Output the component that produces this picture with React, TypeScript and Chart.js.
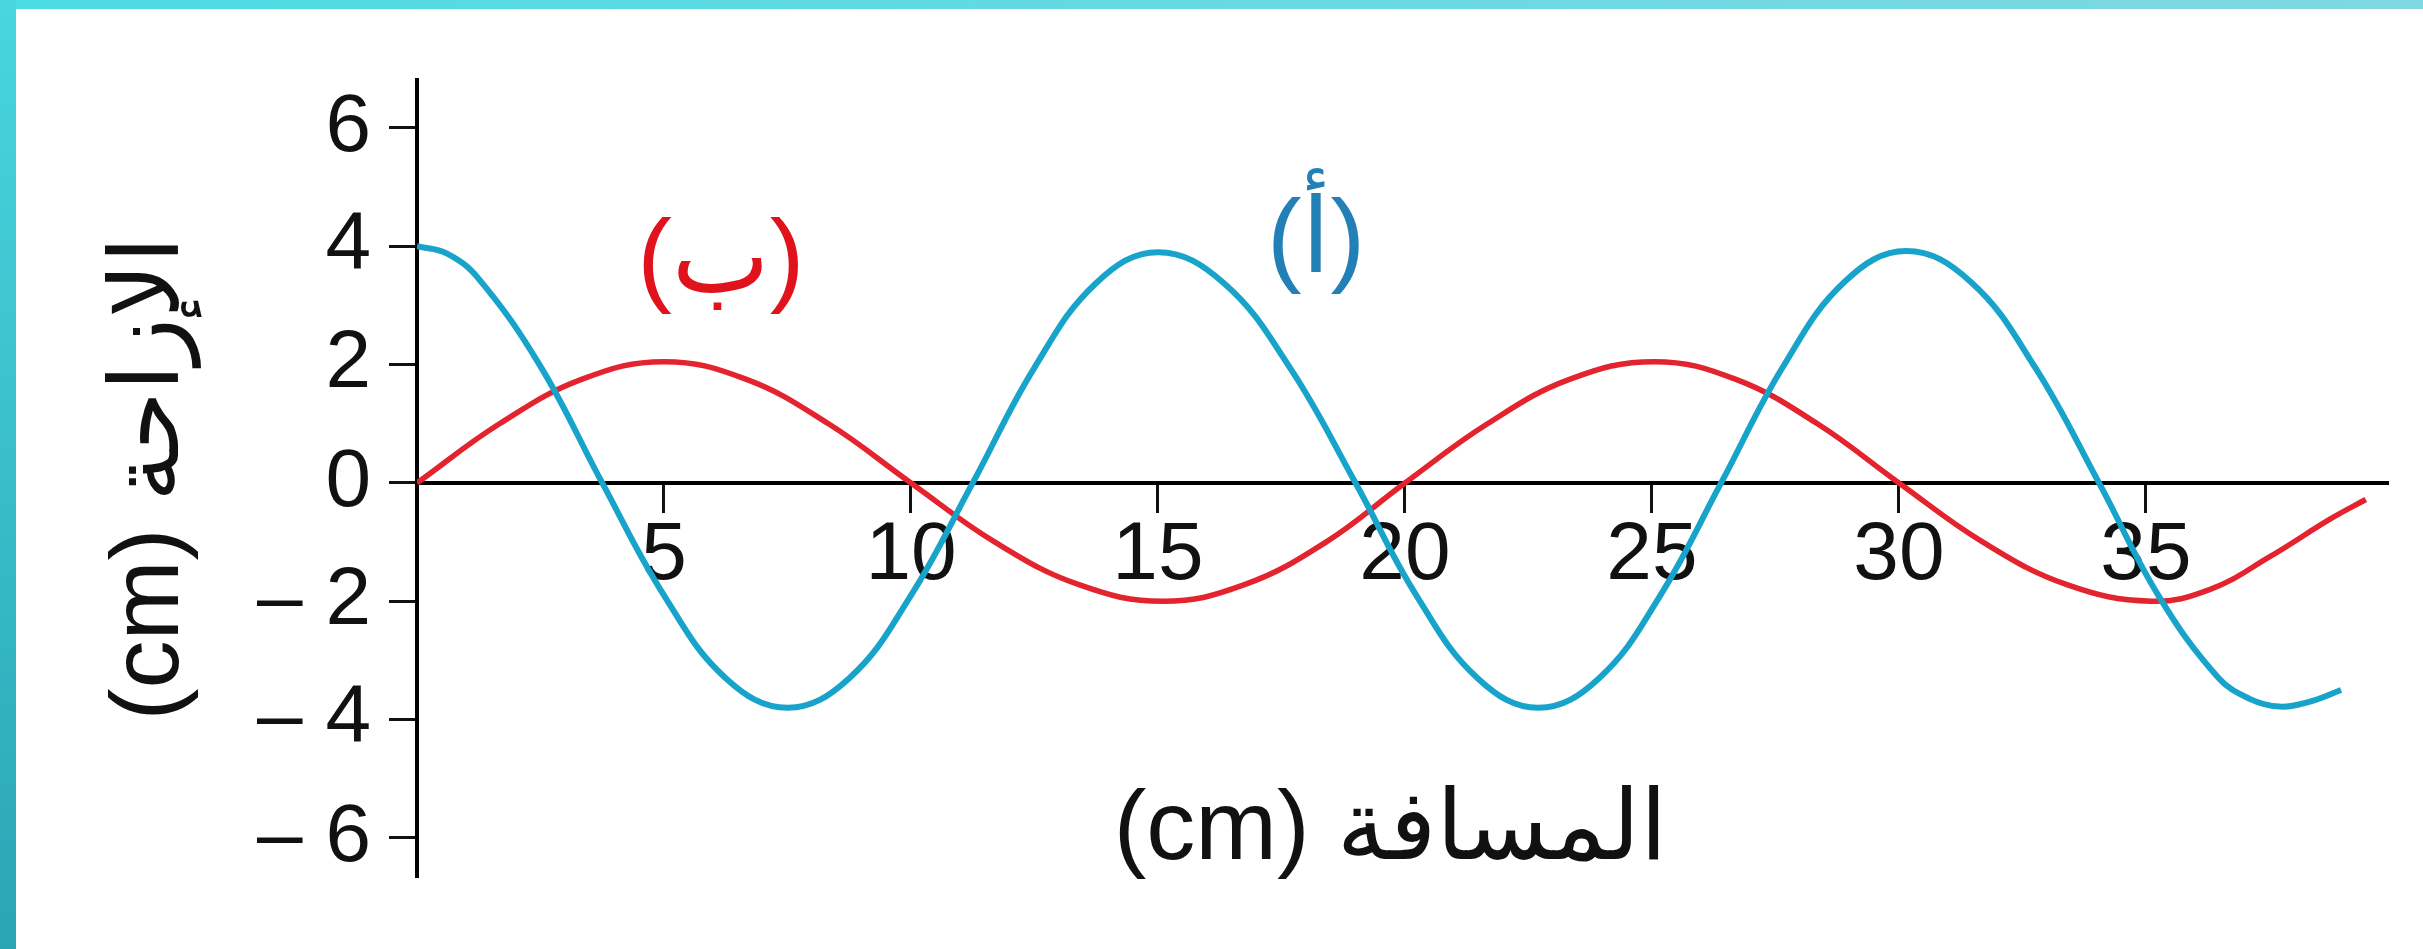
import React, { useEffect, useRef } from 'react';
import { Chart, registerables } from 'chart.js';

Chart.register(...registerables);

const W = 2423;
const H = 949;
const FONT = "'Liberation Sans', Arial, 'DejaVu Sans', sans-serif";

// Wave (أ): displacement (cm) against distance (cm)
const waveAx = [0, 0.6, 1.25, 2.5, 3.75, 5, 6.25, 7.5, 8.75, 10, 11.25, 12.5, 13.75, 15, 16.33, 17.67, 19, 20.23, 21.47, 22.7, 23.93, 25.17, 26.4, 27.65, 28.9, 30.15, 31.45, 32.75, 34.05, 35.25, 36.45, 37.1, 37.7, 38.3, 38.95];
const waveAy = [4.0, 3.88, 3.45, 1.97, 0, -1.9, -3.3, -3.8, -3.3, -1.9, 0, 1.95, 3.38, 3.9, 3.38, 1.95, 0, -1.9, -3.3, -3.8, -3.3, -1.9, 0, 1.96, 3.4, 3.92, 3.4, 1.96, 0, -1.9, -3.28, -3.65, -3.78, -3.7, -3.5];

// Wave (ب): displacement (cm) against distance (cm)
const waveBx = [0, 1.67, 3.33, 5, 6.67, 8.33, 10, 11.7, 13.4, 15.1, 16.75, 18.4, 20, 21.67, 23.33, 25.05, 26.7, 28.35, 30, 31.7, 33.4, 35.1, 36.3, 37.5, 38.75, 39.45];
const waveBy = [0, 1.0, 1.75, 2.05, 1.75, 1.0, 0, -1.0, -1.72, -2.0, -1.72, -1.0, 0, 1.0, 1.75, 2.05, 1.75, 1.0, 0, -1.0, -1.72, -2.0, -1.8, -1.25, -0.6, -0.28];

// Axis ticks
const xTickValues = [5, 10, 15, 20, 25, 30, 35];
const xTickLabels = ['5', '10', '15', '20', '25', '30', '35'];
const yTickValues = [-6, -4, -2, 0, 2, 4, 6];
const yTickLabels = ['– 6', '– 4', '– 2', '0', '2', '4', '6'];

// Titles and curve names
const xTitle = '(cm) المسافة';
const yTitle = '(cm) الإزاحة';
const curveNames = ['(أ)', '(ب)'];
const curveNameAt = [
  { x: 18.2, y: 4.05 },
  { x: 6.15, y: 3.72 },
];

const BLUE = '#17a3ca';
const RED = '#e3232e';
const NAME_COLORS = ['#2280b6', '#e0121c'];

const textPlugin = {
  id: 'waveText',
  afterDraw(chart: any) {
    const { ctx, chartArea, scales } = chart;
    ctx.save();
    ctx.textAlign = 'center';
    ctx.textBaseline = 'middle';
    ctx.fillStyle = '#111';
    ctx.font = `98px ${FONT}`;
    ctx.fillText(xTitle, (chartArea.left + chartArea.right) / 2 - 12, chartArea.bottom - 45);
    ctx.font = `104px ${FONT}`;
    curveNames.forEach((name, i) => {
      ctx.fillStyle = NAME_COLORS[i];
      ctx.fillText(
        name,
        scales.x.getPixelForValue(curveNameAt[i].x),
        scales.y.getPixelForValue(curveNameAt[i].y)
      );
    });
    ctx.restore();
  },
};

export default function App() {
  const canvasRef = useRef<HTMLCanvasElement | null>(null);

  useEffect(() => {
    const canvas = canvasRef.current;
    if (!canvas) return;
    const chart = new Chart(canvas, {
      type: 'line',
      data: {
        datasets: [
          {
            label: curveNames[0],
            data: waveAx.map((x, i) => ({ x, y: waveAy[i] })),
            borderColor: BLUE,
            borderWidth: 6,
            pointRadius: 0,
            fill: false,
            tension: 0.4,
          },
          {
            label: curveNames[1],
            data: waveBx.map((x, i) => ({ x, y: waveBy[i] })),
            borderColor: RED,
            borderWidth: 5.5,
            pointRadius: 0,
            fill: false,
            tension: 0.4,
          },
        ],
      },
      options: {
        responsive: false,
        animation: false,
        devicePixelRatio: 1,
        layout: { padding: { left: 0, top: 80, right: 35, bottom: 72 } },
        plugins: {
          legend: { display: false },
          tooltip: { enabled: false },
        },
        scales: {
          x: {
            type: 'linear',
            min: 0,
            max: 39.9,
            position: { y: 0 },
            afterBuildTicks: (s: any) => {
              s.ticks = xTickValues.map((v) => ({ value: v }));
            },
            grid: {
              drawOnChartArea: false,
              drawTicks: true,
              tickLength: 28,
              tickWidth: 3,
              tickColor: '#111',
            },
            border: { display: true, color: '#000', width: 4 },
            ticks: {
              callback: (_v: any, i: number) => xTickLabels[i],
              font: { family: FONT, size: 82, lineHeight: 1 },
              color: '#111',
              padding: 4,
              maxRotation: 0,
              autoSkip: false,
            },
          },
          y: {
            type: 'linear',
            min: -6.66,
            max: 6.81,
            position: 'left',
            afterFit: (s: any) => {
              s.width = 417;
            },
            afterBuildTicks: (s: any) => {
              s.ticks = yTickValues.map((v) => ({ value: v }));
            },
            grid: {
              drawOnChartArea: false,
              drawTicks: true,
              tickLength: 28,
              tickWidth: 3,
              tickColor: '#111',
            },
            border: { display: true, color: '#000', width: 4 },
            ticks: {
              callback: (_v: any, i: number) => yTickLabels[i],
              font: { family: FONT, size: 82, lineHeight: 1 },
              color: '#111',
              padding: 18,
              autoSkip: false,
            },
            title: {
              display: true,
              text: yTitle,
              font: { family: FONT, size: 96 },
              color: '#111',
              padding: { top: 94, bottom: 0 },
            },
          },
        },
      },
      plugins: [textPlugin],
    } as any);
    return () => chart.destroy();
  }, []);

  return (
    <div style={{ position: 'fixed', left: 0, top: 0, width: W, height: H, background: '#fff', overflow: 'hidden' }}>
      <canvas ref={canvasRef} width={W} height={H} style={{ display: 'block', width: W, height: H }} />
      <div style={{ position: 'absolute', left: 0, top: 0, width: W, height: 9, background: 'linear-gradient(to right, #4cdbe3, #80d8e2)' }} />
      <div style={{ position: 'absolute', left: 0, top: 0, width: 16, height: H, background: 'linear-gradient(to bottom, #48d6df, #2aa5b4)' }} />
    </div>
  );
}
